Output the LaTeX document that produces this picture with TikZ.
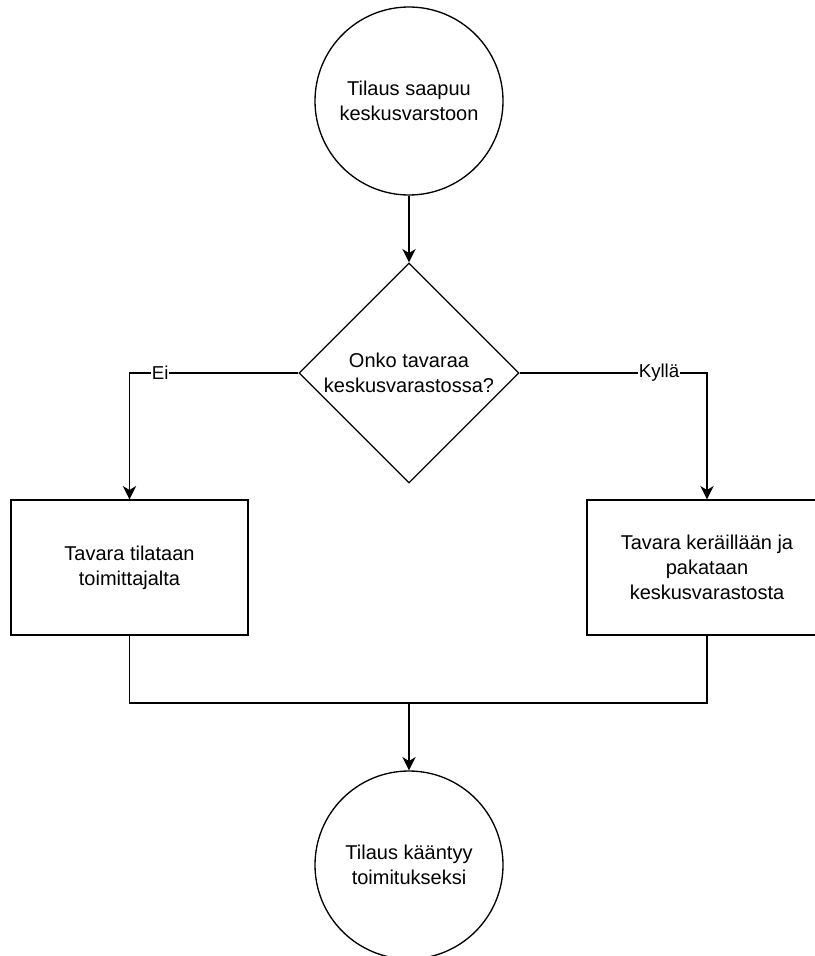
\documentclass[tikz,border=0pt]{standalone}
\usepackage{fontspec}
\setmainfont{Liberation Sans}
\usetikzlibrary{shapes.geometric,arrows.meta}

\begin{document}
\begin{tikzpicture}[
		x=0.75pt, y=-0.75pt,
		line width=1pt,
		every node/.style={draw, align=center, font=\fontsize{15}{19}\selectfont},
		endpt/.style={circle, minimum size=141pt, inner sep=0pt},
		decision/.style={diamond, minimum width=165pt, minimum height=165pt, inner sep=0pt},
		task/.style={rectangle, minimum width=177.75pt, minimum height=101.25pt},
		lbl/.style={draw=none, fill=white, inner sep=0.5pt, font=\fontsize{14}{16}\selectfont},
		flow/.style={-{Stealth[length=10pt, width=10pt, inset=3pt]}}]

		\useasboundingbox (0,0) rectangle (814,956);

		\node[endpt] (start) at (409,101) {Tilaus saapuu\\keskusvarstoon};
		\node[decision] (dec) at (409,373) {Onko tavaraa\\keskusvarastossa?};
		\node[task] (order) at (129.5,567.5) {Tavara tilataan\\toimittajalta};
		\node[task, minimum width=180pt] (pick) at (707,567.5) {Tavara keräillään ja\\pakataan\\keskusvarastosta};
		\node[endpt] (done) at (409,865) {Tilaus kääntyy\\toimitukseksi};
		\coordinate (merge) at (409,703);

		\draw[flow] (start) -- (dec);
		\draw[flow] (dec.west) -| node[lbl, pos=0.409]{Ei} (order.north);
		\draw[flow] (dec.east) -| node[lbl, pos=0.372]{Kyllä} (pick.north);
		\draw (order.south) |- (merge) -| (pick.south);
		\draw[flow] (merge) -- (done);

\end{tikzpicture}
\end{document}
